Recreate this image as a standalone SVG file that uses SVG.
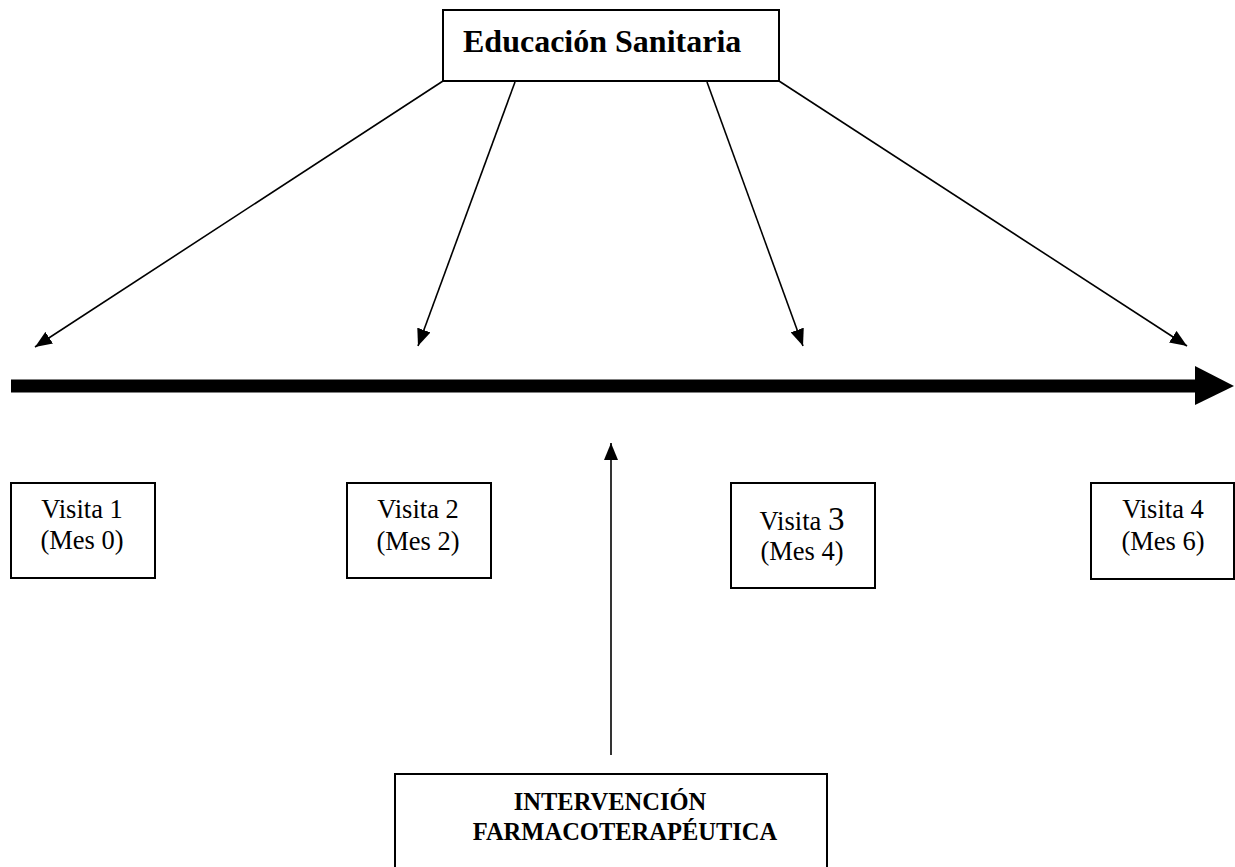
<svg xmlns="http://www.w3.org/2000/svg" width="1235" height="867" viewBox="0 0 1235 867">
  <defs>
    <marker id="arr" markerUnits="userSpaceOnUse" markerWidth="17" markerHeight="14" refX="17" refY="7" orient="auto">
      <path d="M0,0 L17,7 L0,14 z" fill="#000"/>
    </marker>
    <style>
      .box { fill: #fff; stroke: #000; stroke-width: 2; }
      .conn { stroke: #000; stroke-width: 1.6; fill: none; marker-end: url(#arr); }
      .t { font-family: "Liberation Serif", "Times New Roman", Times, "DejaVu Serif", serif; fill: #000; }
      .v { font-size: 26.5px; text-anchor: middle; }
      .b { font-weight: bold; }
    </style>
  </defs>
  <rect width="1235" height="867" fill="#fff"/>

  <g id="connectors">
    <line class="conn" x1="443" y1="81" x2="35" y2="347"/>
    <line class="conn" x1="515" y1="82" x2="418" y2="346"/>
    <line class="conn" x1="707" y1="82" x2="803" y2="346"/>
    <line class="conn" x1="779" y1="81" x2="1187" y2="346"/>
    <line class="conn" x1="611" y1="755" x2="611" y2="443"/>
  </g>

  <g id="timeline">
    <rect x="11" y="379.5" width="1185" height="13" fill="#000"/>
    <polygon points="1195,366 1234,386 1195,405" fill="#000"/>
  </g>

  <g id="educacion">
    <rect class="box" x="443" y="10" width="336" height="71"/>
    <text class="t b" x="463" y="52" font-size="32">Educación Sanitaria</text>
  </g>

  <g id="visita1">
    <rect class="box" x="11" y="483" width="144" height="95"/>
    <text class="t v" x="82" y="518">Visita 1</text>
    <text class="t v" x="82" y="549">(Mes 0)</text>
  </g>

  <g id="visita2">
    <rect class="box" x="347" y="483" width="144" height="95"/>
    <text class="t v" x="418" y="518">Visita 2</text>
    <text class="t v" x="418" y="550">(Mes 2)</text>
  </g>

  <g id="visita3">
    <rect class="box" x="731" y="483" width="144" height="105"/>
    <text class="t v" x="802" y="530">Visita <tspan font-size="33">3</tspan></text>
    <text class="t v" x="802" y="560">(Mes 4)</text>
  </g>

  <g id="visita4">
    <rect class="box" x="1091" y="483" width="143" height="96"/>
    <text class="t v" x="1163" y="518">Visita 4</text>
    <text class="t v" x="1163" y="550">(Mes 6)</text>
  </g>

  <g id="intervencion">
    <rect class="box" x="395" y="774" width="432" height="110"/>
    <text class="t b" x="610" y="810" font-size="24.5" text-anchor="middle">INTERVENCIÓN</text>
    <text class="t b" x="625" y="840" font-size="24.5" text-anchor="middle">FARMACOTERAPÉUTICA</text>
  </g>
</svg>
